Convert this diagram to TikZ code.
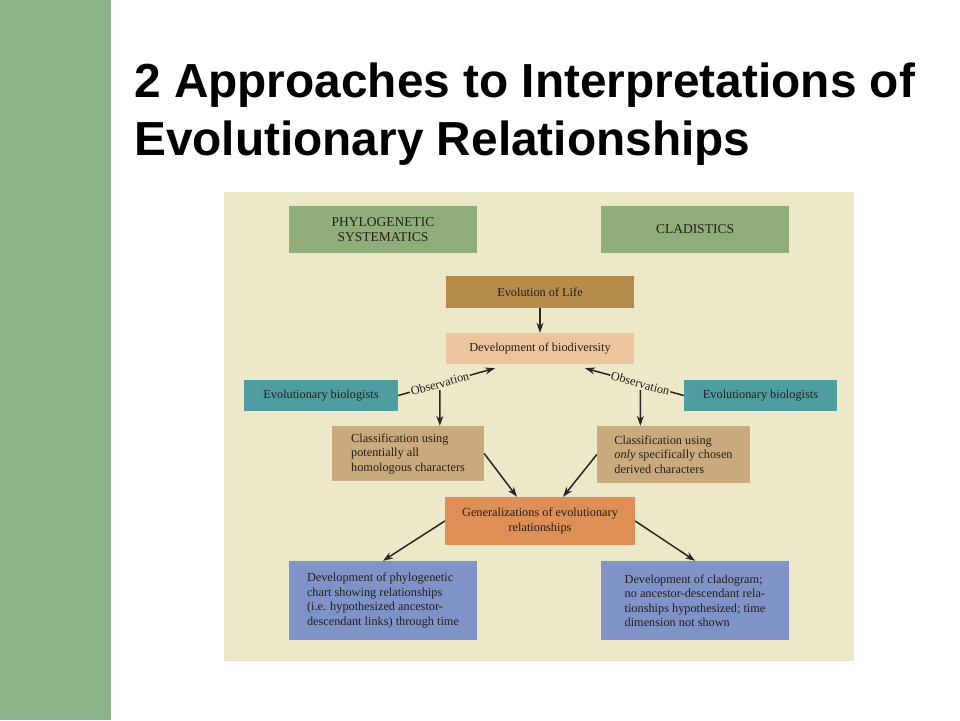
\documentclass[tikz,border=0pt]{standalone}
\usepackage{fontspec}
\setmainfont{Liberation Serif}
\newfontfamily\titlefont{Liberation Sans}
\usetikzlibrary{arrows.meta}
\definecolor{barGreen}{RGB}{141,179,138}
\definecolor{panelCream}{RGB}{237,233,200}
\definecolor{headGreen}{RGB}{143,174,121}
\definecolor{lifeBrown}{RGB}{181,140,76}
\definecolor{bioPeach}{RGB}{236,197,158}
\definecolor{obsTeal}{RGB}{78,157,160}
\definecolor{clsTan}{RGB}{201,170,125}
\definecolor{genOrange}{RGB}{222,143,85}
\definecolor{devBlue}{RGB}{127,147,201}
\definecolor{inkDark}{RGB}{35,30,25}

\begin{document}
\begin{tikzpicture}
  [x=1pt,y=-1pt,
   every node/.style={font=\fontsize{12.3}{14.5}\selectfont,text=inkDark},
   cbox/.style={inner sep=0pt,align=center},
   lbox/.style={inner sep=0pt,align=left},
   head/.style={cbox,fill=headGreen,minimum width=188pt,minimum height=47pt,
     font=\fontsize{13.5}{15}\selectfont},
   obs/.style={sloped,fill=panelCream,inner sep=1pt},
   arr/.style={-{Stealth[length=10pt,width=7pt]},line width=1.5pt,draw=black!85}]
  \useasboundingbox (0,0) rectangle (960,720);
  \fill[barGreen] (0,0) rectangle (111,720);
  \fill[panelCream] (224,192) rectangle (854,661);

  \node[anchor=base west,inner sep=0pt,text=black,
    font=\titlefont\fontsize{47.8}{58}\selectfont\bfseries] (title) at (134,97)
    {2 Approaches to Interpretations of};
  \node[anchor=base west,inner sep=0pt,text=black,
    font=\titlefont\fontsize{47.8}{58}\selectfont\bfseries] (title2) at (134,155)
    {Evolutionary Relationships};

  \node[head] (phylo) at (383,229.5) {PHYLOGENETIC\\SYSTEMATICS};
  \node[head] (clad) at (695,229.5) {CLADISTICS};
  \node[cbox,fill=lifeBrown,minimum width=188pt,minimum height=32pt] (life) at (540,292) {Evolution of Life};
  \node[cbox,fill=bioPeach,minimum width=188pt,minimum height=31pt] (biodiv) at (540,348.5) {Development of biodiversity};
  \node[cbox,fill=obsTeal,minimum width=154pt,minimum height=31pt] (bioL) at (321,395.5) {Evolutionary biologists};
  \node[cbox,fill=obsTeal,minimum width=153pt,minimum height=31pt] (bioR) at (760.5,395.5) {Evolutionary biologists};
  \node[lbox,fill=clsTan,minimum width=152pt,minimum height=55pt] (clsL) at (408,453.5)
    {Classification using\\potentially all\\homologous characters};
  \node[lbox,fill=clsTan,minimum width=153pt,minimum height=57pt] (clsR) at (673.5,454.5)
    {Classification using\\\textit{only} specifically chosen\\derived characters};
  \node[cbox,fill=genOrange,minimum width=190pt,minimum height=48pt] (gen) at (540,521)
    {Generalizations of evolutionary\\relationships};
  \node[lbox,fill=devBlue,minimum width=188pt,minimum height=79pt] (devL) at (383,600.5)
    {Development of phylogenetic\\chart showing relationships\\(i.e. hypothesized ancestor-\\descendant links) through time};
  \node[lbox,fill=devBlue,minimum width=188pt,minimum height=79pt] (devR) at (695,600.5)
    {Development of cladogram;\\no ancestor-descendant rela-\\tionships hypothesized; time\\dimension not shown};

  \draw[arr] (life) -- (biodiv);
  \draw[arr] (bioL.east) -- node[obs,pos=0.43] (obsL) {Observation} ([xshift=-45pt,yshift=-4pt]biodiv.south);
  \draw[arr] (bioR.west) -- node[obs,pos=0.44] (obsR) {Observation} ([xshift=45pt,yshift=-4pt]biodiv.south);
  \draw[arr] (obsL) -- (obsL |- clsL.north);
  \draw[arr] (obsR) -- (obsR |- clsR.north);
  \draw[arr] (clsL.east) -- ([xshift=-23pt]gen.north);
  \draw[arr] (clsR.west) -- ([xshift=23pt]gen.north);
  \draw[arr] (gen.west) -- (devL.north);
  \draw[arr] (gen.east) -- (devR.north);

\end{tikzpicture}
\end{document}
